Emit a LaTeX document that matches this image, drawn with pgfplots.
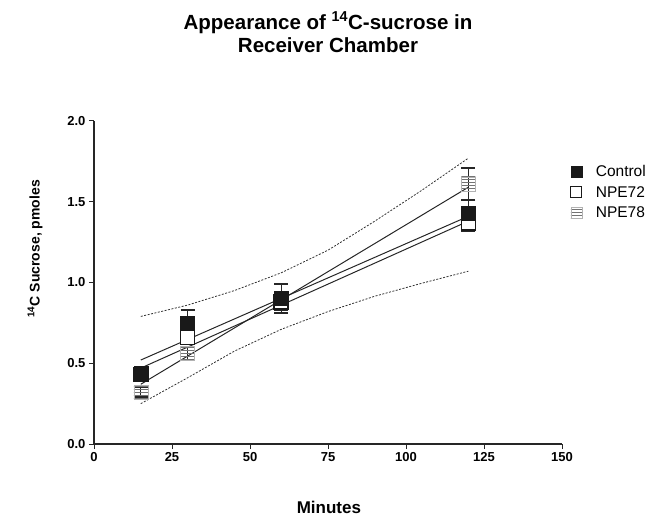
\documentclass[border=0pt]{standalone}
\usepackage{pgfplots}
\pgfplotsset{compat=1.18}
\usetikzlibrary{patterns}
\usepackage{fontspec}
\setmainfont{Liberation Sans}

\pgfplotstableread{
x y e
15 0.44 0.03
30 0.75 0.08
60 0.90 0.09
120 1.43 0.08
}\control
\pgfplotstableread{
x y e
15 0.43 0.03
30 0.66 0.04
60 0.88 0.05
120 1.37 0.05
}\npeA
\pgfplotstableread{
x y e
15 0.32 0.03
30 0.56 0.04
60 0.89 0.05
120 1.61 0.10
}\npeB

\begin{document}
\begin{tikzpicture}
\useasboundingbox (0,0) rectangle (660pt,519pt);
\begin{axis}[
  at={(94pt,75pt)}, anchor=south west,
  scale only axis, width=468pt, height=323pt,
  xmin=0, xmax=150, ymin=0, ymax=2,
  axis lines=left,
  axis line style={line width=1.3pt, -, black!85},
  xtick={0,25,...,150}, ytick={0,0.5,...,2},
  tick align=outside, major tick length=5pt,
  tick style={line width=1pt, black!85},
  /pgf/number format/assume math mode=true,
  yticklabel style={/pgf/number format/fixed, /pgf/number format/fixed zerofill, /pgf/number format/precision=1},
  tick label style={font=\fontsize{13}{15}\selectfont\bfseries},
  title={Appearance of \textsuperscript{14}C-sucrose in\\Receiver Chamber},
  title style={align=center, font=\fontsize{20.5}{23}\selectfont\bfseries, at={(axis description cs:0.5,1)}, anchor=center, yshift=83pt},
  xlabel={Minutes},
  xlabel style={font=\fontsize{17}{19}\selectfont\bfseries, at={(axis description cs:0.502,-0.195)}, anchor=center},
  ylabel={\textsuperscript{14}C Sucrose, pmoles},
  ylabel style={font=\fontsize{14}{16}\selectfont\bfseries, at={(axis description cs:-0.126,0.604)}, anchor=center, rotate=0},
  legend style={draw=none, fill=none, at={(axis description cs:1.012,0.875)}, anchor=north west, font=\fontsize{15.5}{17}\selectfont, row sep=4pt, column sep=12pt},
  legend cell align=left,
  clip=false,
]
% legend images
\addlegendimage{only marks, mark=square*, mark size=5.5pt, mark options={fill=black!90, draw=black!90}}
\addlegendentry{Control}
\addlegendimage{only marks, mark=square, mark size=5.5pt, mark options={draw=black!90, line width=1pt}}
\addlegendentry{NPE72}
\addlegendimage{only marks, mark=square*, mark size=5.5pt, mark options={draw=gray!60, line width=0.4pt, pattern=horizontal lines, pattern color=black!55}}
\addlegendentry{NPE78}

% confidence band
\addplot[forget plot, black!80, line width=0.8pt, dash pattern=on 2pt off 1.5pt] coordinates {
(15,0.79) (30,0.86) (45,0.95) (60,1.06) (75,1.20) (90,1.38) (105,1.57) (120,1.77)};
\addplot[forget plot, black!80, line width=0.8pt, dash pattern=on 2pt off 1.5pt] coordinates {
(15,0.25) (30,0.41) (45,0.575) (60,0.71) (75,0.82) (90,0.915) (105,0.995) (120,1.07)};

% regression lines
\addplot[forget plot, black!85, line width=1pt] coordinates {(15,0.52) (120,1.41)};
\addplot[forget plot, black!85, line width=1pt] coordinates {(15,0.47) (120,1.38)};
\addplot[forget plot, black!85, line width=1pt] coordinates {(15,0.37) (120,1.59)};

% NPE78
\addplot[forget plot, only marks, mark=square*, mark size=7pt,
  mark options={draw=gray!60, line width=0.4pt, pattern=horizontal lines, pattern color=black!55},
  error bars/.cd, y dir=both, y explicit,
  error bar style={line width=1.2pt, black!85},
  error mark options={rotate=90, mark size=7pt, line width=1.5pt, black!85}]
  table[x=x, y=y, y error=e] {\npeB};
% NPE72
\addplot[forget plot, only marks, mark=square*, mark size=7pt,
  mark options={draw=black!90, fill=white, line width=1.6pt},
  error bars/.cd, y dir=both, y explicit,
  error bar style={line width=1.2pt, black!85},
  error mark options={rotate=90, mark size=7pt, line width=1.5pt, black!85}]
  table[x=x, y=y, y error=e] {\npeA};
% Control
\addplot[forget plot, only marks, mark=square*, mark size=7pt,
  mark options={draw=black!90, fill=black!90},
  error bars/.cd, y dir=both, y explicit,
  error bar style={line width=1.2pt, black!85},
  error mark options={rotate=90, mark size=7pt, line width=1.5pt, black!85}]
  table[x=x, y=y, y error=e] {\control};
\end{axis}
\end{tikzpicture}
\end{document}
